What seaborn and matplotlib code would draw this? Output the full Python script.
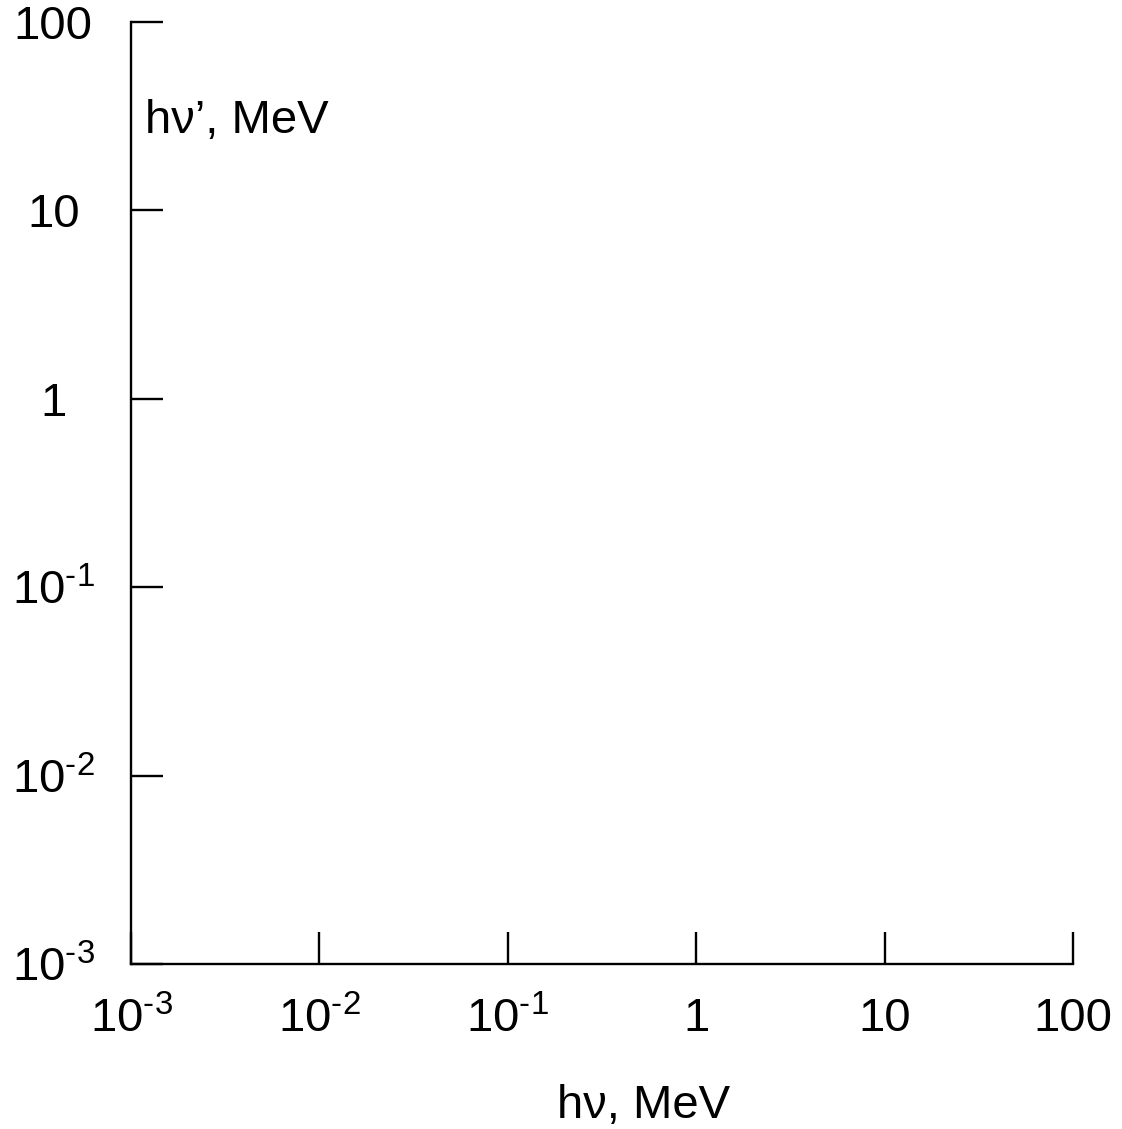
import matplotlib
matplotlib.use("Agg")
import matplotlib.pyplot as plt
import seaborn as sns
import pandas as pd
from matplotlib.ticker import FixedLocator, FixedFormatter, NullLocator

# Data (empty axes in the reference)
hv = []
hv_prime = []
x_ticks = [1e-3, 1e-2, 1e-1, 1, 10, 100]
x_tick_labels = [r"$10^{\text{-3}}$", r"$10^{\text{-2}}$", r"$10^{\text{-1}}$", "1", "10", "100"]
y_ticks = [1e-3, 1e-2, 1e-1, 1, 10, 100]
y_tick_labels = [r"$10^{\text{-3}}$", r"$10^{\text{-2}}$", r"$10^{\text{-1}}$", "1", "10", "100"]
x_label = "h\u03bd, MeV"
y_label = "h\u03bd\u2019, MeV"

sns.set_style("ticks")
plt.rcParams["font.family"] = ["Liberation Sans", "DejaVu Sans"]
plt.rcParams["mathtext.fontset"] = "custom"
plt.rcParams["mathtext.rm"] = "Liberation Sans"
plt.rcParams["mathtext.it"] = "Liberation Sans"
plt.rcParams["mathtext.default"] = "regular"
plt.rcParams["text.color"] = "black"
plt.rcParams["axes.labelcolor"] = "black"

fig = plt.figure(figsize=(11.22, 11.29), dpi=100)
ax = fig.add_axes([0.1168, 0.1461, 0.9563 - 0.1168, 0.9805 - 0.1461])

df = pd.DataFrame({"hv": pd.Series(hv, dtype=float), "hv_prime": pd.Series(hv_prime, dtype=float)})
try:
    sns.lineplot(data=df, x="hv", y="hv_prime", ax=ax)
except Exception:
    pass

ax.set_xscale("log")
ax.set_yscale("log")
ax.set_xlim(1e-3, 100)
ax.set_ylim(1e-3, 100)

ax.xaxis.set_major_locator(FixedLocator(x_ticks))
ax.xaxis.set_major_formatter(FixedFormatter(x_tick_labels))
ax.yaxis.set_major_locator(FixedLocator(y_ticks))
ax.yaxis.set_major_formatter(FixedFormatter(y_tick_labels))
ax.xaxis.set_minor_locator(NullLocator())
ax.yaxis.set_minor_locator(NullLocator())

sns.despine(ax=ax, top=True, right=True)
for s in ("left", "bottom"):
    ax.spines[s].set_linewidth(1.7)
    ax.spines[s].set_color("black")

ax.tick_params(axis="x", direction="in", length=23, width=1.7, labelsize=34, pad=24,
               colors="black", labelcolor="black")
ax.tick_params(axis="y", direction="in", length=23, width=1.7, labelsize=34, pad=56,
               colors="black", labelcolor="black")
for lbl in ax.get_yticklabels():
    lbl.set_horizontalalignment("center")

ax.set_xlabel("")
ax.set_ylabel("")
fig.text(0.574, 0.010, x_label, fontsize=34, ha="center", va="baseline", color="black")
ax.text(0.015, 0.882, y_label, transform=ax.transAxes, fontsize=34, ha="left",
        va="baseline", color="black")

fig.savefig("out.png", dpi=100, facecolor="white")
